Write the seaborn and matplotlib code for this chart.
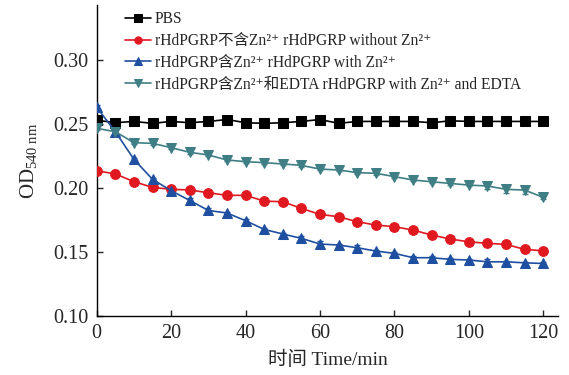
import matplotlib
matplotlib.use('Agg')
import matplotlib.pyplot as plt
import numpy as np
import seaborn as sns

# time points (min)
time = list(range(0, 125, 5))

pbs = [0.253, 0.251, 0.252, 0.2505, 0.252, 0.251, 0.252, 0.2535, 0.251, 0.2505,
       0.251, 0.252, 0.2535, 0.2505, 0.252, 0.252, 0.252, 0.252, 0.251, 0.2525,
       0.252, 0.252, 0.252, 0.252, 0.252]
no_zn = [0.2135, 0.211, 0.205, 0.2005, 0.199, 0.1985, 0.1963, 0.1943, 0.1943, 0.1898,
         0.1893, 0.1841, 0.1794, 0.1776, 0.1737, 0.1711, 0.1698, 0.1672, 0.1633, 0.1602,
         0.158, 0.1568, 0.156, 0.1521, 0.151]
with_zn = [0.263, 0.244, 0.2224, 0.2068, 0.1979, 0.1903, 0.1825, 0.1805, 0.1745, 0.1677,
           0.1641, 0.1607, 0.1563, 0.1555, 0.1534, 0.1508, 0.149, 0.1456, 0.1456, 0.1443,
           0.1438, 0.1424, 0.1424, 0.1416, 0.1411]
zn_edta = [0.2466, 0.244, 0.2354, 0.2349, 0.2315, 0.2279, 0.2258, 0.2219, 0.2206, 0.2198,
           0.2188, 0.2177, 0.2148, 0.2141, 0.212, 0.2115, 0.2089, 0.2063, 0.2049, 0.2036,
           0.2023, 0.2016, 0.199, 0.1984, 0.1927]

# small error bars (mostly hidden behind markers)
err_pbs = [0.001] * 25
err_no_zn = [0.002, 0.003, 0.001, 0.001, 0.001, 0.001, 0.001, 0.001, 0.001, 0.001,
             0.001, 0.001, 0.001, 0.001, 0.001, 0.001, 0.002, 0.001, 0.001, 0.001,
             0.001, 0.001, 0.003, 0.001, 0.001]
err_with_zn = [0.002, 0.001, 0.001, 0.001, 0.003, 0.002, 0.002, 0.001, 0.001, 0.001,
               0.001, 0.002, 0.002, 0.001, 0.002, 0.001, 0.001, 0.001, 0.001, 0.001,
               0.001, 0.002, 0.001, 0.001, 0.001]
err_zn_edta = [0.001, 0.002, 0.001, 0.001, 0.001, 0.001, 0.001, 0.001, 0.001, 0.001,
               0.001, 0.001, 0.001, 0.001, 0.001, 0.001, 0.001, 0.001, 0.001, 0.001,
               0.001, 0.002, 0.003, 0.003, 0.001]

labels = ['PBS',
          'rHdPGRP不含Zn²⁺ rHdPGRP without Zn²⁺',
          'rHdPGRP含Zn²⁺ rHdPGRP with Zn²⁺',
          'rHdPGRP含Zn²⁺和EDTA rHdPGRP with Zn²⁺ and EDTA']
colors = ['#000000', '#e01820', '#1f4fa0', '#3e7e84']
markers = ['s', 'o', '^', 'v']

sns.set_style('ticks')
plt.rcParams['font.family'] = ['Liberation Serif', 'Noto Sans CJK SC', 'DejaVu Serif']
plt.rcParams['mathtext.fontset'] = 'custom'
plt.rcParams['mathtext.rm'] = 'Liberation Serif'
plt.rcParams['mathtext.it'] = 'Liberation Serif:italic'

fig = plt.figure(figsize=(5.69, 3.75), dpi=100)
ax = fig.add_axes([0.170, 0.157, 0.811, 0.830])

series = [(pbs, err_pbs), (no_zn, err_no_zn), (with_zn, err_with_zn), (zn_edta, err_zn_edta)]
for (vals, err), lab, c, m in zip(series, labels, colors, markers):
    ax.errorbar(time, vals, yerr=err, fmt='none', ecolor=c, elinewidth=1, capsize=2, zorder=2)
    sns.lineplot(x=time, y=vals, ax=ax, color=c, marker=m, markersize=7,
                 markeredgecolor=c, linewidth=1.2, label=lab, zorder=3)

ax.set_xlim(0, 124)
ax.set_ylim(0.10, 0.343)
ax.set_xticks([0, 20, 40, 60, 80, 100, 120])
ax.set_yticks([0.10, 0.15, 0.20, 0.25, 0.30])
ax.set_yticklabels(['0.10', '0.15', '0.20', '0.25', '0.30'])
ax.tick_params(direction='in', labelsize=14.5, length=4, width=1, pad=6)
ax.set_xlabel('时间 Time/min', fontsize=14, labelpad=5)
ax.set_ylabel('OD$_{540\\ \\mathrm{nm}}$', fontsize=15, labelpad=10)
sns.despine(ax=ax)
for s in ['left', 'bottom']:
    ax.spines[s].set_linewidth(1)
    ax.spines[s].set_color('black')

ax.legend(loc='upper left', bbox_to_anchor=(0.04, 1.01), frameon=False, fontsize=11.2,
          handlelength=1.7, handletextpad=0.25, labelspacing=0.38, borderaxespad=0.2,
          markerscale=0.75)

fig.savefig('out.png', dpi=100)
